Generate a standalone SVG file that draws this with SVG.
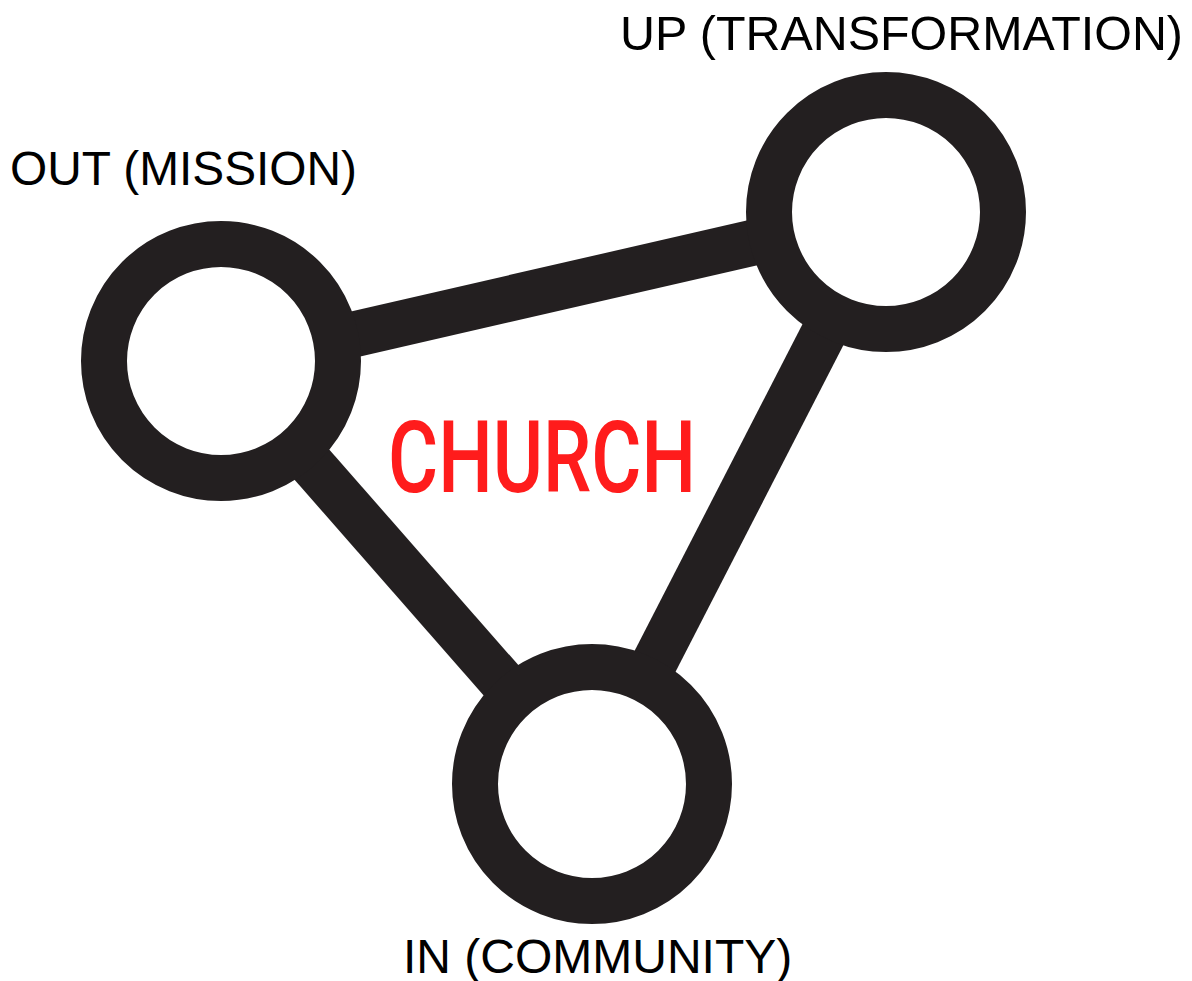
<svg xmlns="http://www.w3.org/2000/svg" width="1192" height="981" viewBox="0 0 1192 981">
<style>
.ring{fill:#fff;stroke:#231f20;stroke-width:46}
.link{stroke:#231f20;stroke-width:46;fill:none}
.lbl{font-family:"Liberation Sans",Arial,sans-serif;font-size:48px;fill:#000}
.title{font-family:Roboto,"Liberation Sans",sans-serif;font-weight:500;font-size:100px;fill:#ff1c1c}
</style>
<rect width="1192" height="981" fill="#fff"/>
<g id="connectors">
<line class="link" x1="221" y1="365" x2="886" y2="212"/>
<line class="link" x1="221" y1="361" x2="592" y2="784"/>
<line class="link" x1="886" y1="212" x2="592" y2="784"/>
</g>
<g id="node-out">
<circle class="ring" cx="221" cy="361" r="117"/>
<text class="lbl" x="10" y="185" textLength="347" lengthAdjust="spacingAndGlyphs">OUT (MISSION)</text>
</g>
<g id="node-up">
<circle class="ring" cx="886" cy="212" r="117"/>
<text class="lbl" x="620" y="50" textLength="563" lengthAdjust="spacingAndGlyphs">UP (TRANSFORMATION)</text>
</g>
<g id="node-in">
<circle class="ring" cx="592" cy="784" r="117"/>
<text class="lbl" x="403" y="973">IN (COMMUNITY)</text>
</g>
<g id="center-label">
<text class="title" x="388" y="492" textLength="308" lengthAdjust="spacingAndGlyphs">CHURCH</text>
</g>
</svg>
